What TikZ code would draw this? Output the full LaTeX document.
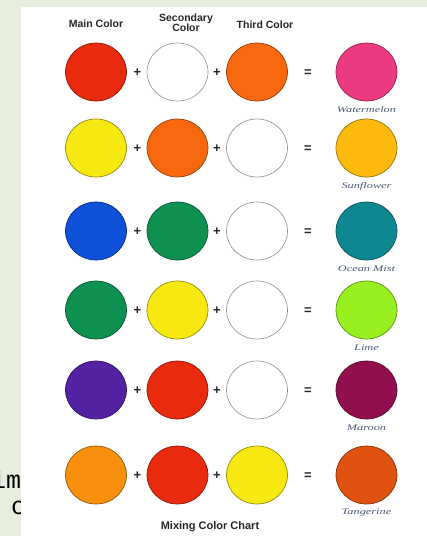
\documentclass[tikz,border=0pt]{standalone}
\usepackage{fontspec}
\setmainfont{Liberation Sans}
\newfontfamily\monof{Liberation Mono}
\newfontfamily\labf[FakeStretch=1.45]{Liberation Serif}
\usetikzlibrary{shapes.geometric}
\definecolor{bgreen}{HTML}{E7EEDC}
\definecolor{W}{HTML}{FFFFFF}
\definecolor{cRed}{HTML}{EA2A0E}
\definecolor{cOrange}{HTML}{F8680E}
\definecolor{cPink}{HTML}{EC3A82}
\definecolor{cYellow}{HTML}{F6E810}
\definecolor{cGold}{HTML}{FDBA0C}
\definecolor{cBlue}{HTML}{0E50D8}
\definecolor{cGreen}{HTML}{0E9050}
\definecolor{cTeal}{HTML}{0F8790}
\definecolor{cLime}{HTML}{98F020}
\definecolor{cPurple}{HTML}{5222A2}
\definecolor{cMaroon}{HTML}{900F4C}
\definecolor{cLOrange}{HTML}{F8900E}
\definecolor{cTang}{HTML}{E05210}
\definecolor{labcol}{HTML}{4A5570}
\begin{document}
\begin{tikzpicture}[x=1pt,y=-1pt,
  circ/.style={ellipse, minimum width=61pt, minimum height=58pt, inner sep=0pt,
    fill=#1, draw=#1!60!black, line width=0.7pt},
  opsign/.style={font=\bfseries\fontsize{13}{13}\selectfont, inner sep=0pt, text=black!85},
  head/.style={font=\bfseries\fontsize{10.5}{11}\selectfont, inner sep=0pt, align=center, text=black!85},
  lab/.style={font=\labf\itshape\fontsize{8.5}{9}\selectfont, inner sep=0pt, text=labcol},
  frag/.style={font=\monof\fontsize{25}{25}\selectfont, inner sep=0pt, anchor=base west}]
\useasboundingbox (0,0) rectangle (427,536);
\fill[bgreen] (0,0) rectangle (427,536);
\node[frag] (frag1) at (-9,488) {im};
\node[frag] (frag2) at (11,514) {co};
\fill[white] (21,7) rectangle (427,536);
% headers
\node[head] (h1) at (96,24) {Main Color};
\node[head] (h2) at (186,23) {Secondary\\[-1pt]Color};
\node[head] (h3) at (265,25) {Third Color};
% rows
\foreach \y/\a/\b/\c/\d/\lbl [count=\i] in {
  72/cRed/W/cOrange/cPink/Watermelon,
  148/cYellow/cOrange/W/cGold/Sunflower,
  231/cBlue/cGreen/W/cTeal/Ocean Mist,
  310/cGreen/cYellow/W/cLime/Lime,
  390/cPurple/cRed/W/cMaroon/Maroon,
  475/cLOrange/cRed/cYellow/cTang/Tangerine}{
  \node[circ=\a] (r\i a) at (96,\y) {};
  \node[circ=\b] (r\i b) at (177.5,\y) {};
  \node[circ=\c] (r\i c) at (257,\y) {};
  \node[circ=\d] (r\i d) at (366.5,\y) {};
  \node[opsign] (r\i p1) at (137.5,\y+1) {+};
  \node[opsign] (r\i p2) at (217,\y+1) {+};
  \node[opsign] (r\i eq) at (308,\y+1) {=};
  \node[lab] (r\i l) at (366.5,\y+38) {\lbl};
}
\node[head, font=\bfseries\fontsize{11}{11}\selectfont] (title) at (210,527) {Mixing Color Chart};
\end{tikzpicture}
\end{document}
